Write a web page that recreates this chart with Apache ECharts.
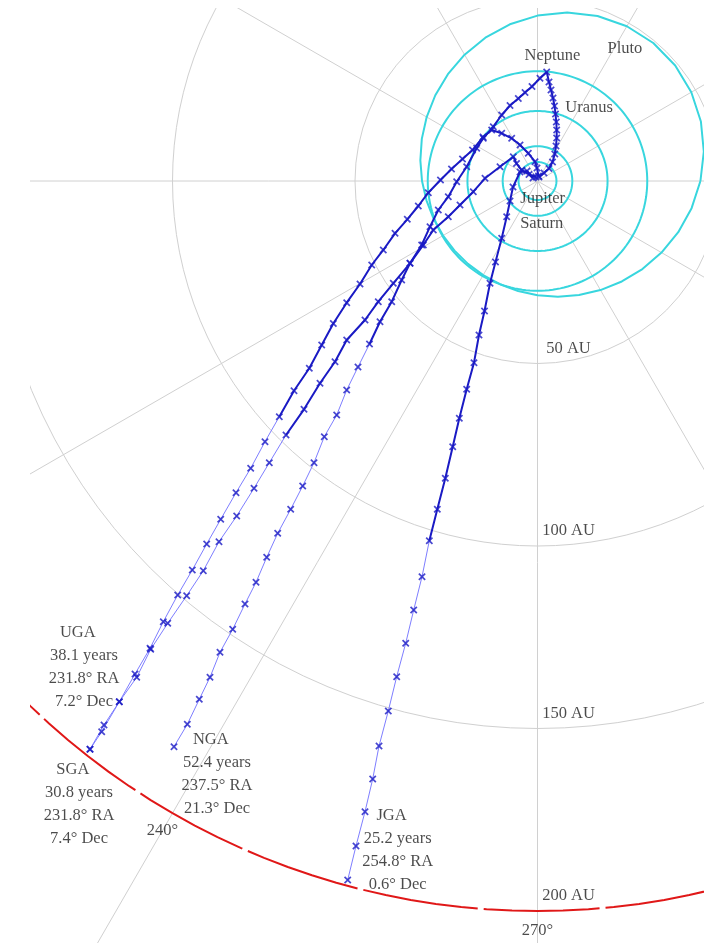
<!DOCTYPE html>
<html>
<head>
<meta charset="utf-8">
<script src="https://cdn.jsdelivr.net/npm/echarts/dist/echarts.min.js"></script>
<style>
html,body{margin:0;padding:0;background:#fff;}
#chart{width:704px;height:943px;}
</style>
</head>
<body>
<div id="chart"></div>
<script>
// ---------------- DATA ----------------
// Mission summary
const missions    = ['JGA', 'SGA', 'UGA', 'NGA'];
const flightYears = [25.2, 30.8, 38.1, 52.4];
const raDeg       = [254.8, 231.8, 231.8, 237.5];
const decDeg      = [0.6, 7.4, 7.2, 21.3];

// Trajectories, yearly positions projected on the ecliptic plane: [X AU, Y AU]
const jgaXY = [[-1.23,0.82],[-2.88,2.74],[-4.79,2.47],[-6.71,-1.64],[-7.53,-5.48],[-8.44,-9.78],[-9.81,-15.70],[-11.51,-22.19],[-13.01,-28.03],[-14.52,-35.62],[-16.03,-42.19],[-17.40,-49.78],[-19.40,-57.07],[-21.42,-65.01],[-23.23,-72.79],[-25.26,-81.45],[-27.45,-89.95],[-29.64,-98.55],[-31.64,-108.41],[-33.92,-117.53],[-36.11,-126.66],[-38.58,-135.81],[-40.88,-145.21],[-43.42,-154.79],[-45.15,-163.84],[-47.26,-172.79],[-49.73,-182.19],[-52.00,-191.51]];
const sgaXY = [[-0.41,1.10],[-2.33,1.78],[-4.33,3.01],[-5.75,4.79],[-6.63,6.66],[-10.27,3.92],[-14.38,0.74],[-17.59,-2.93],[-21.23,-6.58],[-24.44,-9.78],[-28.55,-13.42],[-31.29,-17.53],[-34.93,-22.55],[-39.51,-28.03],[-43.62,-33.07],[-47.26,-38.08],[-52.27,-43.56],[-55.48,-49.51],[-59.59,-55.42],[-63.97,-62.55],[-68.90,-69.59],[-73.48,-77.18],[-77.67,-84.19],[-82.41,-91.78],[-87.26,-98.82],[-91.56,-106.77],[-96.11,-113.61],[-101.31,-121.18],[-105.97,-128.30],[-109.81,-135.97],[-114.57,-142.66],[-119.40,-150.87],[-122.60,-155.70]];
const ugaXY = [[0.27,1.37],[-0.14,3.56],[-0.68,5.29],[-2.52,7.59],[-4.79,9.86],[-7.07,11.70],[-9.81,13.07],[-12.55,13.97],[-14.93,12.05],[-17.81,8.49],[-20.55,6.03],[-23.56,3.29],[-26.58,0.27],[-29.92,-3.21],[-32.66,-6.85],[-35.67,-10.49],[-39.04,-14.33],[-42.25,-18.90],[-45.42,-23.01],[-48.63,-28.22],[-52.27,-33.34],[-55.94,-39.04],[-59.12,-44.93],[-62.52,-51.31],[-66.71,-57.45],[-70.74,-64.57],[-74.66,-71.42],[-78.58,-78.71],[-82.60,-85.40],[-86.79,-92.68],[-90.63,-99.45],[-94.58,-106.57],[-98.57,-113.42],[-102.52,-120.74],[-106.16,-128.03],[-110.27,-135.07],[-114.57,-142.66],[-118.77,-149.04],[-122.60,-155.70]];
const ngaXY = [[0.41,1.10],[1.78,2.19],[3.15,3.42],[4.11,5.21],[4.74,7.40],[5.07,9.59],[5.26,11.78],[5.26,13.97],[5.15,16.16],[4.93,18.36],[4.66,20.55],[4.25,22.74],[3.70,24.93],[3.15,27.12],[2.52,29.86],[0.68,28.14],[-1.51,25.89],[-3.42,24.25],[-5.26,22.60],[-7.53,20.68],[-9.81,18.08],[-12.11,14.88],[-14.85,11.70],[-16.66,8.96],[-19.40,3.92],[-22.14,-0.19],[-24.44,-4.30],[-27.18,-7.95],[-29.45,-12.52],[-31.73,-17.53],[-34.93,-22.55],[-37.21,-27.12],[-39.94,-33.07],[-43.15,-38.55],[-46.03,-44.66],[-49.18,-50.96],[-52.27,-57.26],[-55.01,-64.11],[-58.41,-70.05],[-61.23,-77.18],[-64.33,-83.56],[-67.62,-89.94],[-71.18,-96.52],[-74.19,-103.10],[-77.12,-109.95],[-80.14,-115.89],[-83.51,-122.82],[-86.99,-129.12],[-89.73,-135.97],[-92.66,-142.00],[-95.94,-148.85],[-99.59,-154.98]];

// Planet orbits (AU)
const planetNames   = ['Jupiter', 'Saturn', 'Uranus', 'Neptune'];
const planetOrbitAU = [5.2, 9.54, 19.19, 30.07];
// Pluto's (eccentric) orbit read around the Sun: angle (deg) and distance (AU)
const plutoOrbitDeg = [0,10,20,30,40,50,60,70,80,90,100,110,120,130,140,150,160,170,180,190,200,210,220,230,240,250,260,270,280,290,300,310,320,330,340,350,360];
const plutoOrbitAU  = [44.64,46.27,47.64,48.66,49.25,49.35,48.96,48.10,46.85,45.31,43.59,41.77,39.95,38.19,36.55,35.06,33.73,32.59,31.64,30.87,30.28,29.88,29.67,29.63,29.78,30.10,30.61,31.31,32.19,33.26,34.51,35.93,37.52,39.23,41.04,42.87,44.64];
// Target distance boundary (AU)
const boundaryAU = 200;

// Axis ticks
const ringTicksAU   = [50, 100, 150, 200];
const angleTicksDeg = [0, 30, 60, 90, 120, 150, 180, 210, 240, 270, 300, 330];

// Text labels
const orbitLabels = ['Pluto', 'Neptune', 'Uranus', 'Jupiter', 'Saturn'];

// ---------------- LAYOUT / STYLE ----------------
const layout = {
  center: [537.5, 181],
  radiusPx: 912.5,
  maxAU: 250,
  angleLabelAU: 205.5,
  orbitLabelAt: [[43.4, 56.5], [34.5, 83.2], [24.5, 54.8], [5.1, 286.1], [11.8, 275.6]],
  missionLabelOffset: { JGA: [50, -30], SGA: [-11, 55], UGA: [-6, -82], NGA: [43, 27] },
  thickToAU: { JGA: 105, SGA: 99, UGA: 99, NGA: 66 },
  ringLabelOffset: [31, -15]
};
const FONT = 'Liberation Serif';
const TXT = '#1e1e1e';
const GRID = '#d0d0d0';
const CYAN = '#38d6de';
const DARK = '#1a1ac4';
const LIGHT = '#7e7eff';
const XSYM = 'path://M0,1.6L1.6,0L5,3.4L8.4,0L10,1.6L6.6,5L10,8.4L8.4,10L5,6.6L1.6,10L0,8.4L3.4,5Z';

// ---------------- BUILD ----------------
const toPolar = xy => xy.map(([x, y]) => [Math.hypot(x, y), (Math.atan2(y, x) * 180 / Math.PI + 360) % 360]);
const sampleDeg = [];
for (let a = 0; a <= 360; a += 2) sampleDeg.push(a);

const trajXY = { JGA: jgaXY, SGA: sgaXY, UGA: ugaXY, NGA: ngaXY };
const series = [];

planetOrbitAU.forEach((r, i) => {
  series.push({
    name: planetNames[i] + ' orbit', type: 'line', coordinateSystem: 'polar',
    data: sampleDeg.map(a => [r, a]), showSymbol: false, symbol: 'none',
    lineStyle: { color: CYAN, width: 2 }, silent: true, z: 3, animation: false
  });
});
series.push({
  name: 'Pluto orbit', type: 'line', coordinateSystem: 'polar',
  data: plutoOrbitDeg.map((a, i) => [plutoOrbitAU[i], a]), showSymbol: false, symbol: 'none',
  lineStyle: { color: CYAN, width: 2 }, silent: true, z: 3, animation: false
});
series.push({
  name: '200 AU', type: 'line', coordinateSystem: 'polar',
  data: sampleDeg.map(a => [boundaryAU, a]), showSymbol: false, symbol: 'none',
  lineStyle: { color: '#e01818', width: 2, type: [116, 6], dashOffset: 30 }, silent: true, z: 4, animation: false
});

const markerData = [];
missions.forEach(m => {
  const pts = toPolar(trajXY[m]);
  let k = 0;
  pts.forEach((p, i) => { if (p[0] <= layout.thickToAU[m]) k = i; });
  series.push({
    name: m + ' inner', type: 'line', coordinateSystem: 'polar', data: pts.slice(0, k + 1),
    showSymbol: false, symbol: 'none', lineStyle: { color: DARK, width: 2 }, z: 6, animation: false
  });
  series.push({
    name: m + ' outer', type: 'line', coordinateSystem: 'polar', data: pts.slice(k),
    showSymbol: false, symbol: 'none', lineStyle: { color: LIGHT, width: 1 }, z: 5, animation: false
  });
  pts.forEach(p => markerData.push(p));
});
series.push({
  name: 'yearly markers', type: 'scatter', coordinateSystem: 'polar', data: markerData,
  symbol: XSYM, symbolSize: 7.5, itemStyle: { color: DARK }, z: 7, animation: false
});

const labelBase = { show: true, position: 'inside', color: TXT, fontFamily: FONT, fontSize: 16.5 };
const ghost = { color: 'rgba(0,0,0,0)' };

// mission labels
missions.forEach((m, i) => {
  const pts = toPolar(trajXY[m]);
  series.push({
    name: m + ' label', type: 'scatter', coordinateSystem: 'polar', data: [pts[pts.length - 1]],
    symbolSize: 1, itemStyle: ghost, z: 9, animation: false, silent: true,
    label: Object.assign({}, labelBase, {
      offset: layout.missionLabelOffset[m], lineHeight: 23, align: 'center',
      formatter: () => `${m}   \n${flightYears[i]} years\n${raDeg[i]}° RA\n${decDeg[i]}° Dec`
    })
  });
});

// orbit name labels
series.push({
  name: 'orbit names', type: 'scatter', coordinateSystem: 'polar',
  data: layout.orbitLabelAt.map((p, i) => ({ value: p, name: orbitLabels[i] })),
  symbolSize: 1, itemStyle: ghost, z: 9, animation: false, silent: true,
  label: Object.assign({}, labelBase, { formatter: p => p.name })
});

// ring labels
series.push({
  name: 'ring labels', type: 'scatter', coordinateSystem: 'polar',
  data: ringTicksAU.map(r => [r, 270]), symbolSize: 1, itemStyle: ghost, z: 9, animation: false, silent: true,
  label: Object.assign({}, labelBase, { offset: layout.ringLabelOffset, formatter: p => p.value[0] + ' AU' })
});

// angle labels
series.push({
  name: 'angle labels', type: 'scatter', coordinateSystem: 'polar',
  data: angleTicksDeg.map(a => [layout.angleLabelAU, a]), symbolSize: 1, itemStyle: ghost, z: 9, animation: false, silent: true,
  label: Object.assign({}, labelBase, { formatter: p => p.value[1] + '°' })
});

const chart = echarts.init(document.getElementById('chart'), null, { renderer: 'canvas' });
chart.setOption({
  backgroundColor: '#ffffff',
  animation: false,
  polar: { center: layout.center, radius: layout.radiusPx },
  angleAxis: {
    type: 'value', min: 0, max: 360, interval: 30, startAngle: 0, clockwise: false,
    axisLine: { show: false }, axisTick: { show: false }, axisLabel: { show: false },
    splitLine: { show: true, lineStyle: { color: GRID, width: 1 } }
  },
  radiusAxis: {
    type: 'value', min: 0, max: layout.maxAU, interval: 50,
    axisLine: { show: false }, axisTick: { show: false }, axisLabel: { show: false },
    splitLine: { show: true, lineStyle: { color: [GRID, GRID, GRID, GRID, 'rgba(0,0,0,0)', 'rgba(0,0,0,0)'], width: 1 } }
  },
  graphic: [
    { type: 'rect', left: 0, top: 0, z: 100, shape: { width: 30, height: 943 }, style: { fill: '#fff' } },
    { type: 'rect', left: 0, top: 0, z: 100, shape: { width: 704, height: 8 }, style: { fill: '#fff' } }
  ],
  series: series
});
</script>
</body>
</html>
